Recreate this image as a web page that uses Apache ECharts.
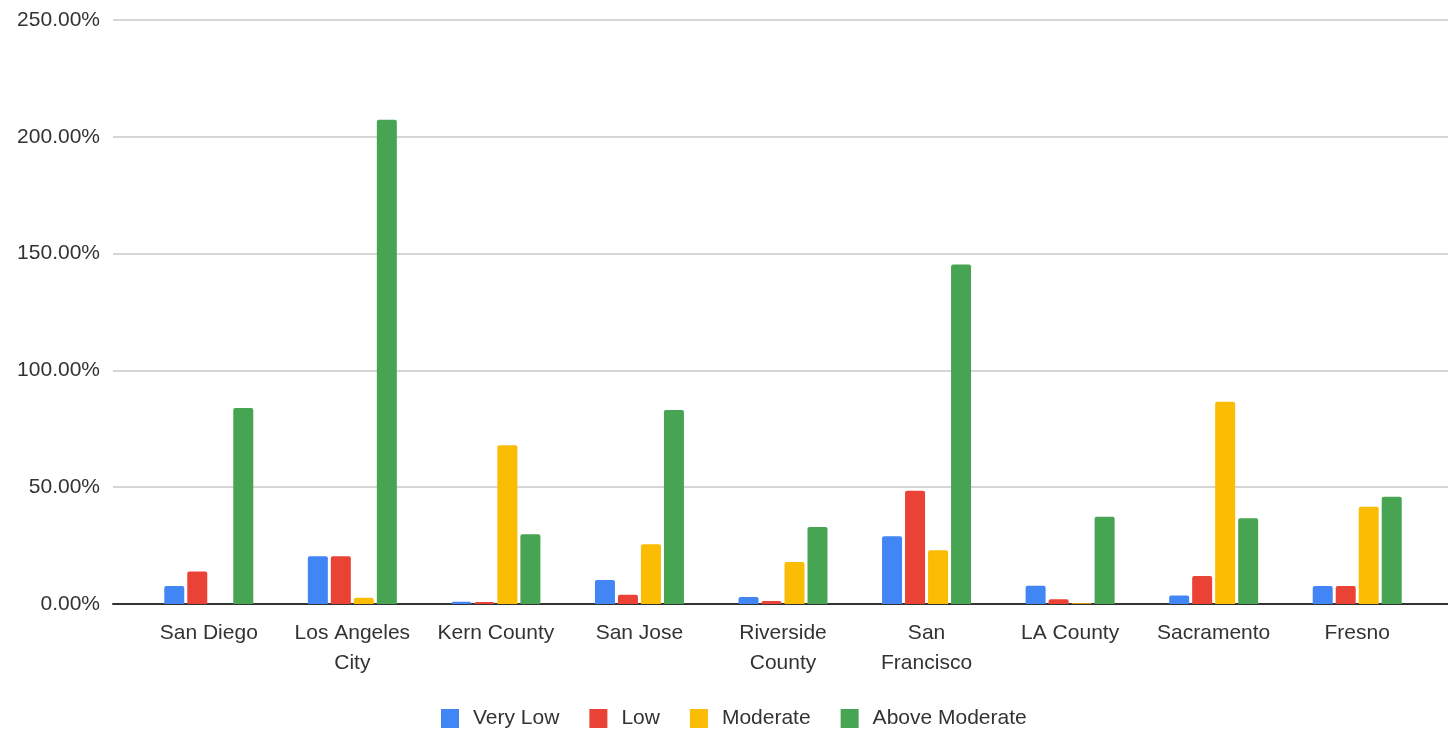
<!DOCTYPE html>
<html>
<head>
<meta charset="utf-8">
<title>Housing progress by income level</title>
<script src="https://cdn.jsdelivr.net/npm/echarts@6/dist/echarts.min.js"></script>
<style>
  html, body { margin: 0; padding: 0; background: #ffffff; }
  #chart { width: 1448px; height: 731px; }
</style>
</head>
<body>
<div id="chart"></div>
<script>
// Jurisdictions along the x axis
const categories = ['San Diego', 'Los Angeles\nCity', 'Kern County', 'San Jose', 'Riverside\nCounty',
  'San\nFrancisco', 'LA County', 'Sacramento', 'Fresno'];

// Percent of target reached, per income level
const veryLow = [7.7, 20.4, 1.0, 10.3, 3.0, 29.0, 7.8, 3.6, 7.7];
const low = [13.9, 20.4, 0.9, 4.0, 1.3, 48.5, 2.0, 12.0, 7.7];
const moderate = [0, 2.7, 68.0, 25.6, 18.0, 23.0, 0.3, 86.6, 41.6];
const aboveModerate = [83.9, 207.3, 29.9, 83.0, 33.0, 145.3, 37.4, 36.7, 45.9];

const seriesNames = ['Very Low', 'Low', 'Moderate', 'Above Moderate'];
const seriesColors = ['#4285F4', '#EA4335', '#FBBC04', '#46A453'];
const seriesData = [veryLow, low, moderate, aboveModerate];

const yMin = 0, yMax = 250, yStep = 50;
const font = '"Liberation Sans", Arial, sans-serif';
const textColor = '#333333';

const chart = echarts.init(document.getElementById('chart'), null, { renderer: 'canvas' });

chart.setOption({
  animation: false,
  backgroundColor: '#ffffff',
  textStyle: { fontFamily: font },
  grid: [
    // wide area: gridlines, value labels and baseline
    { left: 113, right: 0, top: 20, bottom: 127 },
    // bar area: category bands
    { left: 137, right: 19, top: 20, bottom: 127 }
  ],
  legend: {
    data: seriesNames,
    left: 436,
    top: 703,
    icon: 'rect',
    itemWidth: 18,
    itemHeight: 19,
    itemGap: 30,
    textStyle: { fontSize: 21, color: textColor, fontFamily: font, padding: [0, 0, 0, 9] }
  },
  xAxis: [
    {
      gridIndex: 0,
      type: 'category',
      data: [''],
      axisLine: { show: true, lineStyle: { color: '#333333', width: 2 } },
      axisTick: { show: false },
      axisLabel: { show: false },
      splitLine: { show: false }
    },
    {
      gridIndex: 1,
      type: 'category',
      data: categories,
      axisLine: { show: false },
      axisTick: { show: false },
      axisLabel: {
        interval: 0,
        margin: 14,
        fontSize: 21,
        lineHeight: 30,
        color: textColor,
        fontFamily: font
      }
    }
  ],
  yAxis: [
    {
      gridIndex: 0,
      type: 'value',
      min: yMin,
      max: yMax,
      interval: yStep,
      axisLine: { show: false },
      axisTick: { show: false },
      axisLabel: {
        margin: 13,
        fontSize: 21,
        color: textColor,
        fontFamily: font,
        formatter: v => v.toFixed(2) + '%'
      },
      splitLine: { show: true, lineStyle: { color: '#d6d6d6', width: 2 } }
    },
    {
      gridIndex: 1,
      type: 'value',
      min: yMin,
      max: yMax,
      interval: yStep,
      show: false,
      splitLine: { show: false }
    }
  ],
  series: seriesNames.map((name, i) => ({
    name: name,
    type: 'bar',
    xAxisIndex: 1,
    yAxisIndex: 1,
    data: seriesData[i],
    barWidth: 20,
    barGap: '15%',
    itemStyle: { color: seriesColors[i], borderRadius: [2, 2, 0, 0] },
    z: 1
  }))
});
</script>
</body>
</html>
